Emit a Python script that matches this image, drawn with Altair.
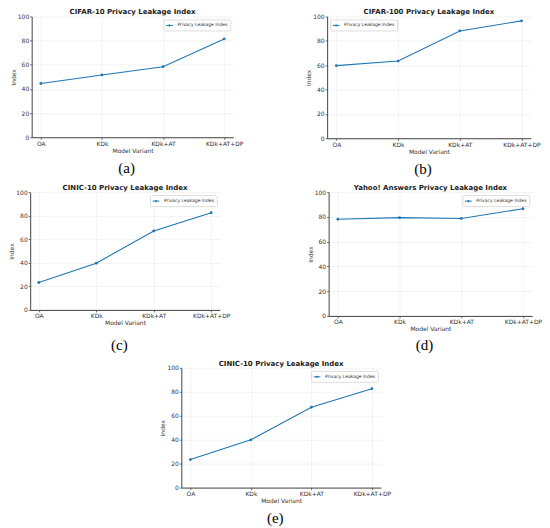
import altair as alt
import pandas as pd

variants = ["OA", "KDk", "KDk+AT", "KDk+AT+DP"]
series_name = "Privacy Leakage Index"

titles = [
    "CIFAR-10 Privacy Leakage Index",
    "CIFAR-100 Privacy Leakage Index",
    "CINIC-10 Privacy Leakage Index",
    "Yahoo! Answers Privacy Leakage Index",
    "CINIC-10 Privacy Leakage Index",
]
captions = ["(a)", "(b)", "(c)", "(d)", "(e)"]

cifar10 = [44.5, 51.6, 58.4, 81.4]
cifar100 = [59.6, 63.4, 88.1, 96.4]
cinic10_c = [23.3, 39.7, 67.0, 82.5]
yahoo = [78.1, 79.4, 78.7, 86.6]
cinic10_e = [23.4, 39.9, 67.1, 82.6]

BLUE = "#1f77b4"
SANS = "DejaVu Sans"
SERIF = "Liberation Serif"

legend_symbol = "M-1,0L1,0M-0.22,0a0.22,0.22 0 1,0 0.44,0a0.22,0.22 0 1,0 -0.44,0"


def panel(vals, title, caption, w, h, legend_orient, cap_offset=8):
    df = pd.DataFrame({"variant": variants, "value": vals, "series": series_name})
    chart = (
        alt.Chart(df)
        .mark_line(strokeWidth=1.1, point=alt.OverlayMarkDef(size=8, filled=True))
        .encode(
            x=alt.X(
                "variant:N",
                sort=variants,
                scale=alt.Scale(type="point", padding=0.15),
                axis=alt.Axis(title="Model Variant", labelAngle=0, grid=True),
            ),
            y=alt.Y(
                "value:Q",
                scale=alt.Scale(domain=[0, 100], nice=False),
                axis=alt.Axis(title="Index", values=[0, 20, 40, 60, 80, 100]),
            ),
            color=alt.Color(
                "series:N",
                scale=alt.Scale(range=[BLUE]),
                legend=alt.Legend(
                    title=None,
                    orient=legend_orient,
                    offset=3,
                    symbolType=legend_symbol,
                    symbolSize=45,
                    symbolStrokeWidth=1,
                    labelFontSize=4.5,
                    labelColor="#333",
                    labelFont=SANS,
                    padding=2,
                    strokeColor="#dddddd",
                    cornerRadius=1,
                    fillColor="white",
                ),
            ),
        )
        .properties(
            width=w,
            height=h,
            title=alt.TitleParams(
                title,
                fontSize=7,
                font=SANS,
                fontWeight="bold",
                color="#222",
                offset=-2,
                frame="group",
            ),
        )
    )
    return alt.vconcat(
        chart,
        title=alt.TitleParams(
            caption,
            orient="bottom",
            anchor="middle",
            fontSize=15,
            font=SERIF,
            fontWeight="normal",
            color="black",
            offset=cap_offset,
        ),
    ).resolve_scale(color="independent").resolve_legend(color="independent")


pa = panel(cifar10, titles[0], captions[0], 202, 121, "top-right")
pb = panel(cifar100, titles[1], captions[1], 204, 122, "top-left")
pc = panel(cinic10_c, titles[2], captions[2], 190, 118, "top-right", cap_offset=12)
pd_ = panel(yahoo, titles[3], captions[3], 204, 124, "top-right", cap_offset=6)
pe = panel(cinic10_e, titles[4], captions[4], 200, 120, "top-right", cap_offset=7)

row1 = alt.hconcat(pa, pb, spacing=62).resolve_scale(color="independent").resolve_legend(color="independent")
row2 = alt.hconcat(pc, pd_, spacing=76).resolve_scale(color="independent").resolve_legend(color="independent")

chart = (
    alt.vconcat(row1, row2, pe, spacing=7, center=True, padding=0)
    .resolve_scale(color="independent")
    .resolve_legend(color="independent")
    .configure_view(stroke=None)
    .configure_axis(
        domainColor="#444",
        domainWidth=1,
        tickColor="#444",
        tickSize=2,
        tickWidth=0.8,
        labelFontSize=6,
        labelFont=SANS,
        labelColor="#333",
        labelPadding=1,
        titleFontSize=6,
        titleFont=SANS,
        titleColor="#333",
        titleFontWeight="normal",
        titlePadding=1,
        gridColor="#ebebeb",
        gridWidth=0.6,
    )
)

chart.save("out.html", embed_options={"renderer": "svg", "actions": False})
